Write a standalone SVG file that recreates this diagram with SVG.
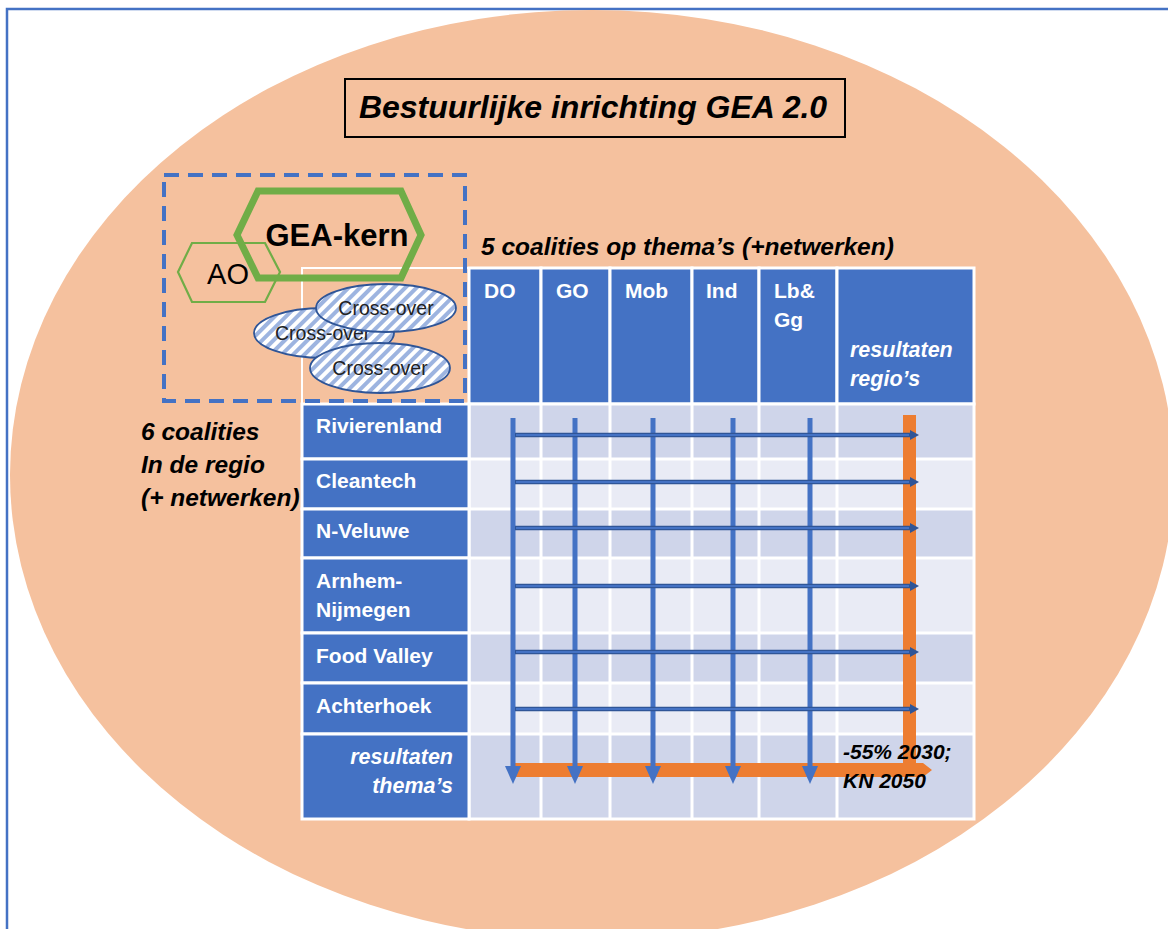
<svg xmlns="http://www.w3.org/2000/svg" width="1168" height="929" viewBox="0 0 1168 929">
<defs>
<style>
.t{font-family:"Liberation Sans",Arial,sans-serif}
.bi{font-weight:bold;font-style:italic;fill:#000}
.w{fill:#fff;font-weight:bold;font-size:21px}
.wi{fill:#fff;font-weight:bold;font-style:italic;font-size:21.5px}
.hdr{fill:#4472c4;stroke:#fff;stroke-width:3}
.dk{fill:#cfd5ea}
.lt{fill:#e9ebf5}
.grid{stroke:#fff;stroke-width:3}
.co{fill:url(#hatch);stroke:#2f5597;stroke-width:1.8}
.cot{font-size:19.5px;fill:#222}
.va{stroke:#4472c4;stroke-width:5;fill:none;marker-end:url(#vhead)}
.ha{stroke:#2f5597;stroke-width:4.5;fill:none;marker-end:url(#hhead)}
.hai{stroke:#4472c4;stroke-width:1.8;fill:none}
</style>
<pattern id="hatch" width="8" height="8" patternUnits="userSpaceOnUse" patternTransform="rotate(45)">
<rect width="8" height="8" fill="#ffffff"/>
<rect width="4" height="8" fill="#9db4e0"/>
</pattern>
<marker id="vhead" markerUnits="userSpaceOnUse" markerWidth="18" markerHeight="18" refX="0" refY="8" orient="auto" viewBox="0 0 18 16" overflow="visible">
<path d="M0,0 L18,8 L0,16 Z" fill="#4472c4"/>
</marker>
<marker id="hhead" markerUnits="userSpaceOnUse" markerWidth="9" markerHeight="10" refX="0" refY="5" orient="auto" viewBox="0 0 9 10" overflow="visible">
<path d="M0,0 L9,5 L0,10 Z" fill="#2f5597"/>
</marker>
</defs>

<rect x="0" y="0" width="1168" height="929" fill="#fff"/>
<rect id="frame" x="7" y="9" width="1200" height="1000" fill="none" stroke="#4472c4" stroke-width="2.5"/>
<ellipse id="area" cx="592" cy="475" rx="582" ry="465" fill="#f5c19e"/>

<g id="title">
<rect x="345" y="79" width="500" height="58" fill="none" stroke="#000" stroke-width="2"/>
<text class="t bi" x="593" y="118" font-size="32" text-anchor="middle">Bestuurlijke inrichting GEA 2.0</text>
</g>

<g id="label-themes"><text class="t bi" x="481" y="255" font-size="24.5">5 coalities op thema’s (+netwerken)</text></g>
<g id="label-regions">
<text class="t bi" x="141" y="440" font-size="24.5">6 coalities</text>
<text class="t bi" x="141" y="473" font-size="24.5">In de regio</text>
<text class="t bi" x="141" y="506" font-size="24.5">(+ netwerken)</text>
</g>

<g id="table">
<rect x="302" y="268" width="167" height="136" fill="none" stroke="#fff" stroke-width="2"/>
<g id="h-do"><rect class="hdr" x="469" y="268" width="72" height="136"/><text class="t w" x="484" y="298">DO</text></g>
<g id="h-go"><rect class="hdr" x="541" y="268" width="69" height="136"/><text class="t w" x="556" y="298">GO</text></g>
<g id="h-mob"><rect class="hdr" x="610" y="268" width="82" height="136"/><text class="t w" x="625" y="298">Mob</text></g>
<g id="h-ind"><rect class="hdr" x="692" y="268" width="67" height="136"/><text class="t w" x="706" y="298">Ind</text></g>
<g id="h-lb"><rect class="hdr" x="759" y="268" width="78" height="136"/><text class="t w" x="774" y="298">Lb&amp;</text><text class="t w" x="774" y="327">Gg</text></g>
<g id="h-res"><rect class="hdr" x="837" y="268" width="137" height="136"/><text class="t wi" x="850" y="357">resultaten</text><text class="t wi" x="850" y="386">regio’s</text></g>

<rect class="dk" x="469" y="404" width="505" height="55"/>
<rect class="lt" x="469" y="459" width="505" height="50"/>
<rect class="dk" x="469" y="509" width="505" height="49"/>
<rect class="lt" x="469" y="558" width="505" height="75"/>
<rect class="dk" x="469" y="633" width="505" height="50"/>
<rect class="lt" x="469" y="683" width="505" height="51"/>
<rect class="dk" x="469" y="734" width="505" height="85"/>
<g class="grid">
<line x1="541" y1="404" x2="541" y2="819"/>
<line x1="610" y1="404" x2="610" y2="819"/>
<line x1="692" y1="404" x2="692" y2="819"/>
<line x1="759" y1="404" x2="759" y2="819"/>
<line x1="837" y1="404" x2="837" y2="819"/>
<line x1="469" y1="459" x2="974" y2="459"/>
<line x1="469" y1="509" x2="974" y2="509"/>
<line x1="469" y1="558" x2="974" y2="558"/>
<line x1="469" y1="633" x2="974" y2="633"/>
<line x1="469" y1="683" x2="974" y2="683"/>
<line x1="469" y1="734" x2="974" y2="734"/>
<rect x="469" y="404" width="505" height="415" fill="none"/>
</g>

<g id="r-riv"><rect class="hdr" x="302" y="404" width="167" height="55"/><text class="t w" x="316" y="433">Rivierenland</text></g>
<g id="r-clean"><rect class="hdr" x="302" y="459" width="167" height="50"/><text class="t w" x="316" y="488">Cleantech</text></g>
<g id="r-nvel"><rect class="hdr" x="302" y="509" width="167" height="49"/><text class="t w" x="316" y="538">N-Veluwe</text></g>
<g id="r-arn"><rect class="hdr" x="302" y="558" width="167" height="75"/><text class="t w" x="316" y="588">Arnhem-</text><text class="t w" x="316" y="617">Nijmegen</text></g>
<g id="r-food"><rect class="hdr" x="302" y="633" width="167" height="50"/><text class="t w" x="316" y="663">Food Valley</text></g>
<g id="r-acht"><rect class="hdr" x="302" y="683" width="167" height="51"/><text class="t w" x="316" y="713">Achterhoek</text></g>
<g id="r-res"><rect class="hdr" x="302" y="734" width="167" height="85"/><text class="t wi" x="453" y="764" text-anchor="end">resultaten</text><text class="t wi" x="453" y="793" text-anchor="end">thema’s</text></g>
</g>

<g id="connectors">
<path id="total" d="M513,763 L903,763 L903,415 L916,415 L916,763 L923,763 L932,770 L923,777 L513,777 Z" fill="#ed7d31"/>
<line class="va" x1="513" y1="418" x2="513" y2="766"/>
<line class="va" x1="575" y1="418" x2="575" y2="766"/>
<line class="va" x1="653" y1="418" x2="653" y2="766"/>
<line class="va" x1="733" y1="418" x2="733" y2="766"/>
<line class="va" x1="810" y1="418" x2="810" y2="766"/>
<line class="ha" x1="515" y1="435" x2="910" y2="435"/><line class="hai" x1="516" y1="435" x2="909" y2="435"/>
<line class="ha" x1="515" y1="482" x2="910" y2="482"/><line class="hai" x1="516" y1="482" x2="909" y2="482"/>
<line class="ha" x1="515" y1="528" x2="910" y2="528"/><line class="hai" x1="516" y1="528" x2="909" y2="528"/>
<line class="ha" x1="515" y1="586" x2="910" y2="586"/><line class="hai" x1="516" y1="586" x2="909" y2="586"/>
<line class="ha" x1="515" y1="652" x2="910" y2="652"/><line class="hai" x1="516" y1="652" x2="909" y2="652"/>
<line class="ha" x1="515" y1="709" x2="910" y2="709"/><line class="hai" x1="516" y1="709" x2="909" y2="709"/>
</g>

<g id="goal">
<text class="t bi" x="843" y="759" font-size="21">-55% 2030;</text>
<text class="t bi" x="843" y="788" font-size="21">KN 2050</text>
</g>

<g id="ao">
<polygon points="178,272 192,243 265,243 280,272 265,302 192,302" fill="none" stroke="#70ad47" stroke-width="2.2"/>
<text class="t" x="228" y="284" font-size="29" text-anchor="middle" fill="#000">AO</text>
</g>
<g id="gea-kern">
<polygon points="237,235 258,191 401,191 421,235 401,278 258,278" fill="none" stroke="#70ad47" stroke-width="7"/>
<text class="t" x="337" y="246" font-size="31" font-weight="bold" text-anchor="middle" fill="#000">GEA-kern</text>
</g>

<g id="crossover-2"><ellipse class="co" cx="324" cy="333" rx="70" ry="25"/><text class="t cot" x="275" y="340">Cross-over</text></g>
<g id="crossover-1"><ellipse class="co" cx="386" cy="308" rx="70" ry="24"/><text class="t cot" x="386" y="315" text-anchor="middle">Cross-over</text></g>
<g id="crossover-3"><ellipse class="co" cx="380" cy="368" rx="70" ry="25"/><text class="t cot" x="380" y="375" text-anchor="middle">Cross-over</text></g>

<rect id="core-box" x="164" y="175" width="301" height="226" fill="none" stroke="#4472c4" stroke-width="4" stroke-dasharray="15 9"/>
</svg>
